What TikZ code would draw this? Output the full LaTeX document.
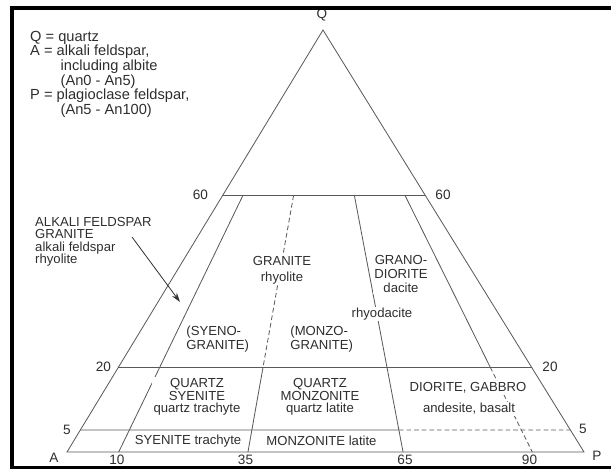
\documentclass[tikz,border=0pt]{standalone}
\usepackage{fontspec}
\setmainfont{Liberation Sans}
\usetikzlibrary{calc,arrows.meta}
\begin{document}
\begin{tikzpicture}[x=0.03cm,y=-0.03cm,
  font=\fontsize{11.2}{12}\selectfont, text=black!82,
  ln/.style={draw=black!65,line width=0.7pt},
  dsh/.style={ln,dash pattern=on 4pt off 2.5pt},
  lab/.style={align=center,inner sep=1pt,fill=white},
  num/.style={inner sep=0pt,font=\fontsize{11.6}{12}\selectfont},
  frame/.style={draw=black,line width=3.2pt}]
\useasboundingbox (0,0) rectangle (611,469);
% triangle vertices
\coordinate (A) at (67,452);
\coordinate (P) at (584,452);
\coordinate (Q) at (323,30);
\foreach \n/\q in {60/0.608,20/0.201,5/0.052}{
  \coordinate (L\n) at ($(A)!\q!(Q)$);
  \coordinate (R\n) at ($(P)!\q!(Q)$);
}
\foreach \n in {60,20,5}{
  \foreach \p/\v in {10/0.10,35/0.35,65/0.65,90/0.90}{
    \coordinate (d\p-\n) at ($(L\n)!\v!(R\n)$);
  }
}
\foreach \p/\v in {10/0.10,35/0.35,65/0.65,90/0.90}{
  \coordinate (b\p) at ($(A)!\v!(P)$);
}
% outline and field boundaries
\draw[ln] (A) -- (Q) -- (P) -- cycle;
\draw[ln] (L60) -- (R60);
\draw[ln] (L20) -- (R20);
\draw[ln] (L5) -- (d65-5);
\draw[dsh] (d65-5) -- (R5);
\draw[ln] (d10-60) -- (b10);
\draw[dsh] (d35-60) -- (d35-20);
\draw[ln] (d35-20) -- (b35);
\draw[ln] (d65-60) -- (b65);
\draw[ln] (d90-60) -- (d90-20);
\draw[dsh] (d90-20) -- (b90);
% legend
\node[anchor=north west,inner sep=0pt,align=left,font=\fontsize{12.5}{12.4}\selectfont] (legend) at (30,31)
  {Q = quartz\\A = alkali feldspar,\\\hspace*{26pt}including albite\\\hspace*{26pt}(An0 - An5)\\P = plagioclase feldspar,\\\hspace*{26pt}(An5 - An100)};
% alkali feldspar granite label and arrow
\node[anchor=north west,inner sep=0pt,align=left,font=\fontsize{11.2}{10.5}\selectfont] (afg) at (35,217)
  {ALKALI FELDSPAR\\GRANITE\\alkali feldspar\\rhyolite};
\coordinate (arS) at (132,237);
\coordinate (arE) at (180,302);
\draw[draw=black!80,line width=0.7pt,-{Stealth[length=8pt,width=5pt]}] (arS) -- (arE);
% field labels
\node[lab,font=\fontsize{11.2}{13.6}\selectfont] (granite) at (282,270) {GRANITE\\rhyolite};
\node[lab,font=\fontsize{11.2}{11.9}\selectfont] (grano) at (401,274) {GRANO-\\DIORITE\\dacite};
\node[lab] (rhyodacite) at (382,314) {rhyodacite};
\node[lab,align=left,anchor=west,font=\fontsize{11.2}{11.9}\selectfont] (syenogr) at (185,339) {(SYENO-\\GRANITE)};
\node[lab,align=left,anchor=west,font=\fontsize{11.2}{11.9}\selectfont] (monzogr) at (289,339) {(MONZO-\\GRANITE)};
\node[lab,font=\fontsize{11.2}{10.6}\selectfont] (qsyen) at (197,397) {QUARTZ\\SYENITE\\quartz trachyte};
\node[lab,font=\fontsize{11.2}{10.6}\selectfont] (qmonz) at (320,397) {QUARTZ\\MONZONITE\\quartz latite};
\node[lab] (diorite) at (468,388) {DIORITE, GABBRO};
\node[lab] (andesite) at (469,409) {andesite, basalt};
\node[lab] (syen) at (188,441) {SYENITE trachyte};
\node[lab] (monz) at (321.5,441) {MONZONITE latite};
% numbers and apex letters
\node[num] (n60l) at (200.5,195) {60};
\node[num] (n60r) at (443,195) {60};
\node[num] (n20l) at (103.5,367) {20};
\node[num] (n20r) at (550,367) {20};
\node[num] (n5l) at (67,430) {5};
\node[num] (n5r) at (583,429) {5};
\node[num] (n10) at (117,460) {10};
\node[num] (n35) at (245.5,460) {35};
\node[num] (n65) at (405,460) {65};
\node[num] (n90) at (529.5,460) {90};
\node[num] (lA) at (54,458) {A};
\node[num] (lP) at (597,456) {P};
\node[num] (lQ) at (322,15) {Q};
% frame
\draw[frame] (611,8) -- (12,8) -- (12,467.5) -- (611,467.5);
\end{tikzpicture}
\end{document}
